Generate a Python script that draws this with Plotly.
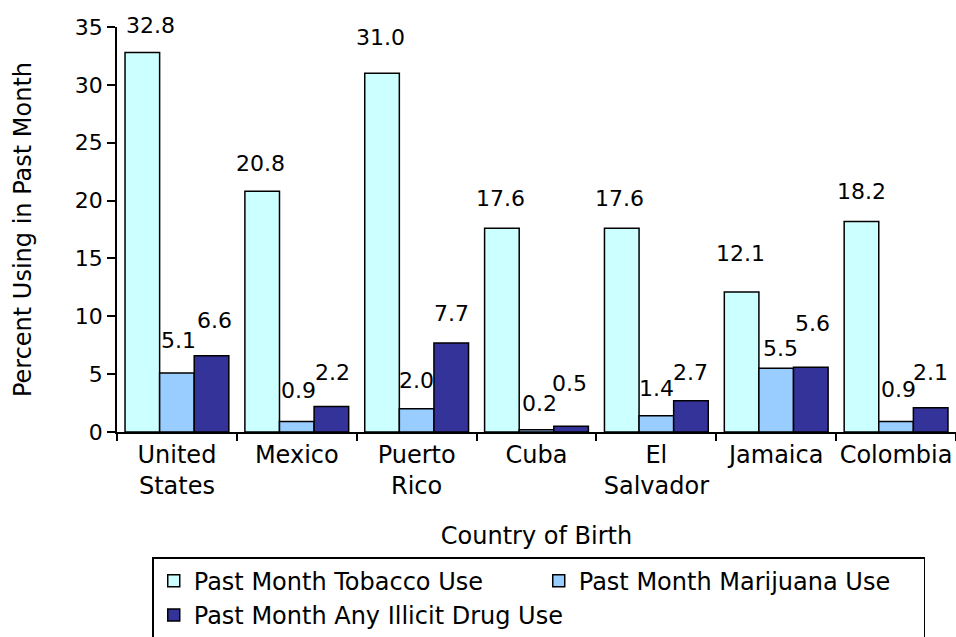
import plotly.graph_objects as go

countries = ["United<br>States", "Mexico", "Puerto<br>Rico", "Cuba", "El<br>Salvador", "Jamaica", "Colombia"]
tobacco = [32.8, 20.8, 31.0, 17.6, 17.6, 12.1, 18.2]
marijuana = [5.1, 0.9, 2.0, 0.2, 1.4, 5.5, 0.9]
illicit = [6.6, 2.2, 7.7, 0.5, 2.7, 5.6, 2.1]

series = [
    ("Past Month Tobacco Use", tobacco, "#CCFFFF"),
    ("Past Month Marijuana Use", marijuana, "#99CCFF"),
    ("Past Month Any Illicit Drug Use", illicit, "#333399"),
]

# hand-placed label offsets (pixels): lift above bar top, sideways nudge
label_lift = [
    [27, 27.5, 36, 29.5, 29.5, 38.5, 29.5],
    [32, 31, 28, 26, 27.5, 20, 32],
    [35, 34.5, 29, 43, 28, 44, 35],
]
label_nudge = [
    [8, -2, -2, -1, -2, -1, 0],
    [2, 2, 0, 3, 0, 4, 2],
    [3, 1, 0, -2, 0, 2, 0],
]

FONT = "DejaVu Sans, Liberation Sans, Arial, sans-serif"
TXT = 24
NUM = 22
bargap = 0.134
bar_w = (1 - bargap) / 3

fig = go.Figure()
for name, vals, color in series:
    fig.add_trace(go.Bar(
        name=name, x=countries, y=vals,
        marker=dict(color=color, line=dict(color="black", width=1.5)),
    ))

# value labels above each bar
annotations = []
for k, (name, vals, color) in enumerate(series):
    off = (k - 1) * bar_w
    for i, v in enumerate(vals):
        annotations.append(dict(
            x=i + off, y=v, xref="x", yref="y",
            text=f"{v:.1f}", showarrow=False,
            yanchor="middle", yshift=label_lift[k][i], xshift=label_nudge[k][i],
            font=dict(family=FONT, size=NUM, color="black"),
        ))

fig.update_layout(
    barmode="group", bargap=bargap, bargroupgap=0,
    width=956, height=637,
    margin=dict(l=117, r=0, t=27, b=205, autoexpand=False),
    plot_bgcolor="white", paper_bgcolor="white",
    font=dict(family=FONT, size=TXT, color="black"),
    annotations=annotations,
    showlegend=True,
    legend=dict(
        orientation="h", x=0.042, y=-0.309, xanchor="left", yanchor="top",
        entrywidth=340, entrywidthmode="pixels",
        bordercolor="black", borderwidth=1.5,
        font=dict(family=FONT, size=TXT, color="black"),
        traceorder="normal",
    ),
    xaxis=dict(
        title=dict(text="Country of Birth", font=dict(family=FONT, size=TXT), standoff=28),
        showline=True, linecolor="black", linewidth=1.5,
        ticks="outside", tickson="boundaries", ticklen=7, tickcolor="black", tickwidth=1.5,
        tickangle=0,
        showgrid=False, tickfont=dict(family=FONT, size=TXT),
    ),
    yaxis=dict(
        title=dict(text="Percent Using in Past Month", font=dict(family=FONT, size=TXT), standoff=36),
        range=[0, 35], dtick=5,
        showline=True, linecolor="black", linewidth=1.5,
        ticks="outside", ticklen=8, tickcolor="black", tickwidth=1.5,
        showgrid=False, zeroline=False, tickfont=dict(family=FONT, size=NUM),
    ),
)

fig.write_html("out.html")
